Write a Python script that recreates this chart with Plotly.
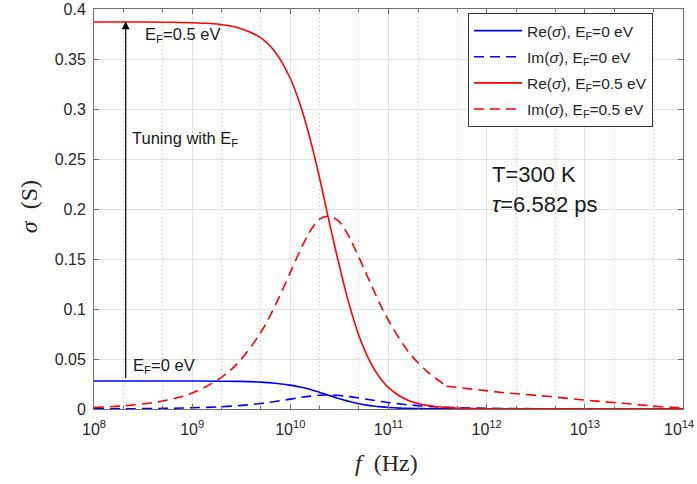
import math
import plotly.graph_objects as go

# Frequencies (Hz)
freq = [1e8, 2e8, 5e8, 1e9, 2e9, 3e9, 5e9, 7e9, 1e10, 1.3e10, 1.6e10, 2e10, 2.4e10,
        3e10, 3.5e10, 4e10, 5e10, 6e10, 7e10, 8.5e10, 1e11, 1.3e11, 1.6e11, 2e11,
        2.5e11, 3e11, 4e11, 6e11, 1e12, 3e12, 1e13, 3e13, 1e14]

# Re(sigma), EF = 0.5 eV
re_05 = [0.387, 0.387, 0.3868, 0.3863, 0.3844, 0.3811, 0.3711, 0.3571, 0.3305, 0.3002,
         0.2691, 0.2298, 0.1942, 0.1524, 0.1253, 0.1036, 0.0733, 0.0541, 0.0413, 0.0290,
         0.0214, 0.0130, 0.0086, 0.0056, 0.0036, 0.0025, 0.0014, 0.0006, 0.0002, 0.0001,
         0.0001, 0.0001, 0.0001]

# Im(sigma), EF = 0.5 eV  (low-frequency part, up to the kink)
im_05_freq = [1e8, 2e8, 5e8, 1e9, 2e9, 3e9, 5e9, 7e9, 1e10, 1.3e10, 1.6e10, 2e10, 2.4e10,
              3e10, 3.5e10, 4e10, 5e10, 6e10, 7e10, 8.5e10, 1e11, 1.3e11, 1.6e11, 2e11,
              2.5e11, 3e11, 3.9e11]
im_05 = [0.0016, 0.0032, 0.0080, 0.0160, 0.0318, 0.0473, 0.0767, 0.1034, 0.1367, 0.1614,
         0.1781, 0.1901, 0.1928, 0.1891, 0.1814, 0.1714, 0.1516, 0.1342, 0.1196, 0.1019,
         0.0885, 0.0699, 0.0569, 0.0463, 0.0372, 0.0310, 0.0228]
# Im(sigma), EF = 0.5 eV  (high-frequency tail after the kink)
im_05_tail_freq = [3.9e11, 7e11, 1.6e12, 4.2e12, 1e13, 2.6e13, 5.9e13, 1e14]
im_05_tail = [0.0228, 0.0200, 0.0160, 0.0127, 0.0089, 0.0055, 0.0022, 0.0012]

# Re(sigma), EF = 0 eV
re_0 = [0.0280, 0.0280, 0.0280, 0.0280, 0.0278, 0.0276, 0.0269, 0.0258, 0.0239, 0.0217,
        0.0195, 0.0166, 0.0141, 0.0110, 0.0091, 0.0075, 0.0053, 0.0039, 0.0030, 0.0021,
        0.0015, 0.0009, 0.0006, 0.0004, 0.0003, 0.0002, 0.0001, 0.0, 0.0, 0.0,
        0.0, 0.0, 0.0]

# Im(sigma), EF = 0 eV
im_0 = [0.0001, 0.0002, 0.0006, 0.0012, 0.0023, 0.0034, 0.0055, 0.0075, 0.0099, 0.0117,
        0.0129, 0.0138, 0.0140, 0.0137, 0.0131, 0.0124, 0.0110, 0.0097, 0.0087, 0.0074,
        0.0064, 0.0051, 0.0041, 0.0034, 0.0027, 0.0022, 0.0017, 0.0011, 0.0007, 0.0003,
        0.0001, 0.0, 0.0]

x_tickvals = [1e8, 1e9, 1e10, 1e11, 1e12, 1e13, 1e14]
x_ticktext = ["10<sup>8</sup>", "10<sup>9</sup>", "10<sup>10</sup>", "10<sup>11</sup>",
              "10<sup>12</sup>", "10<sup>13</sup>", "10<sup>14</sup>"]
y_tickvals = [0, 0.05, 0.1, 0.15, 0.2, 0.25, 0.3, 0.35, 0.4]
y_ticktext = ["0", "0.05", "0.1", "0.15", "0.2", "0.25", "0.3", "0.35", "0.4"]

series_names = ["Re(<i>σ</i>), E<sub>F</sub>=0 eV", "Im(<i>σ</i>), E<sub>F</sub>=0 eV",
                "Re(<i>σ</i>), E<sub>F</sub>=0.5 eV", "Im(<i>σ</i>), E<sub>F</sub>=0.5 eV"]

BLUE = "#0000ff"
RED = "#ff0000"
DASH = "10px,6px"
LW = 1.6
SANS = "Liberation Sans, Arial, sans-serif"
SERIF = "Liberation Serif, Times New Roman, serif"

fig = go.Figure()
fig.add_trace(go.Scatter(x=freq, y=re_0, mode="lines", name=series_names[0], legendgroup="a",
                         line=dict(color=BLUE, width=LW, shape="spline", smoothing=1)))
fig.add_trace(go.Scatter(x=freq, y=im_0, mode="lines", name=series_names[1], legendgroup="b",
                         line=dict(color=BLUE, width=LW, dash=DASH, shape="spline", smoothing=1)))
fig.add_trace(go.Scatter(x=freq, y=re_05, mode="lines", name=series_names[2], legendgroup="c",
                         line=dict(color=RED, width=LW, shape="spline", smoothing=1)))
fig.add_trace(go.Scatter(x=im_05_freq, y=im_05, mode="lines", name=series_names[3], legendgroup="d",
                         line=dict(color=RED, width=LW, dash=DASH, shape="spline", smoothing=1)))
fig.add_trace(go.Scatter(x=im_05_tail_freq, y=im_05_tail, mode="lines", name=series_names[3],
                         legendgroup="d", showlegend=False,
                         line=dict(color=RED, width=LW, dash=DASH)))

# Tuning arrow
arrow_logf = 8.323
fig.add_annotation(x=arrow_logf, y=0.3876, ax=arrow_logf, ay=0.0293,
                   xref="x", yref="y", axref="x", ayref="y", text="", showarrow=True,
                   arrowhead=2, arrowsize=1.3, arrowwidth=1.2, arrowcolor="black")

txt_font = dict(family=SANS, size=16.5, color="#1a1a1a")
big_font = dict(family=SANS, size=22, color="#1a1a1a")
fig.add_annotation(x=8.50, y=0.374, xref="x", yref="y", text="E<sub>F</sub>=0.5 eV",
                   showarrow=False, xanchor="left", yanchor="middle", font=txt_font)
fig.add_annotation(x=8.367, y=0.270, xref="x", yref="y", text="Tuning with E<sub>F</sub>",
                   showarrow=False, xanchor="left", yanchor="middle", font=txt_font)
fig.add_annotation(x=8.374, y=0.043, xref="x", yref="y", text="E<sub>F</sub>=0 eV",
                   showarrow=False, xanchor="left", yanchor="middle", font=txt_font)
fig.add_annotation(x=12.03, y=0.235, xref="x", yref="y", text="T=300 K",
                   showarrow=False, xanchor="left", yanchor="middle", font=big_font)
fig.add_annotation(x=12.03, y=0.205, xref="x", yref="y", text="<i>τ</i>=6.582 ps",
                   showarrow=False, xanchor="left", yanchor="middle", font=big_font)

# Axis titles
title_font = dict(family=SERIF, size=24, color="#262626")
fig.add_annotation(x=0.497, y=-0.136, xref="paper", yref="paper",
                   text="<i>f</i>\u00a0\u00a0(Hz)", showarrow=False,
                   xanchor="center", yanchor="middle", font=title_font)
fig.add_annotation(x=-0.11, y=0.505, xref="paper", yref="paper",
                   text="<i>σ</i>\u00a0\u00a0(S)", showarrow=False, textangle=-90,
                   xanchor="center", yanchor="middle", font=title_font)

# Last x tick label drawn right-aligned so that it stays inside the picture
tick_font_x = dict(family=SANS, size=16, color="#262626")
x_ticktext_drawn = x_ticktext[:-1] + [""]
fig.add_annotation(x=14, y=0, xref="x", yref="paper", text=x_ticktext[-1],
                   showarrow=False, xanchor="right", yanchor="top", xshift=13, yshift=-7,
                   font=tick_font_x)

axis_common = dict(showline=True, linecolor="#6e6e6e", linewidth=1, mirror="allticks",
                   ticks="inside", ticklen=5, tickcolor="#6e6e6e", zeroline=False,
                   automargin=False, showgrid=True, gridcolor="#e2e2e2", gridwidth=1)

fig.update_xaxes(type="log", range=[8, 14], tickvals=x_tickvals, ticktext=x_ticktext_drawn,
                 tickfont=tick_font_x, ticklabelstandoff=6,
                 minor=dict(ticks="inside", ticklen=3, tickcolor="#6e6e6e", showgrid=True,
                            gridcolor="#c4c4c4", griddash="1px,3px", gridwidth=1),
                 **axis_common)
fig.update_yaxes(range=[0, 0.4], tickvals=y_tickvals, ticktext=y_ticktext,
                 tickfont=dict(family=SANS, size=16, color="#262626"),
                 ticklabelstandoff=4,
                 **axis_common)

fig.update_layout(
    width=697, height=484,
    margin=dict(l=94, r=14, t=9, b=75),
    paper_bgcolor="white", plot_bgcolor="white",
    showlegend=True,
    legend=dict(x=0.635, y=0.99, xanchor="left", yanchor="top",
                bgcolor="white", bordercolor="#333333", borderwidth=1,
                font=dict(family=SANS, size=15.5, color="#262626"),
                tracegroupgap=3, itemwidth=48),
)

fig.write_html("out.html", config={"displayModeBar": False},
               post_script="document.body.style.margin='0';")
